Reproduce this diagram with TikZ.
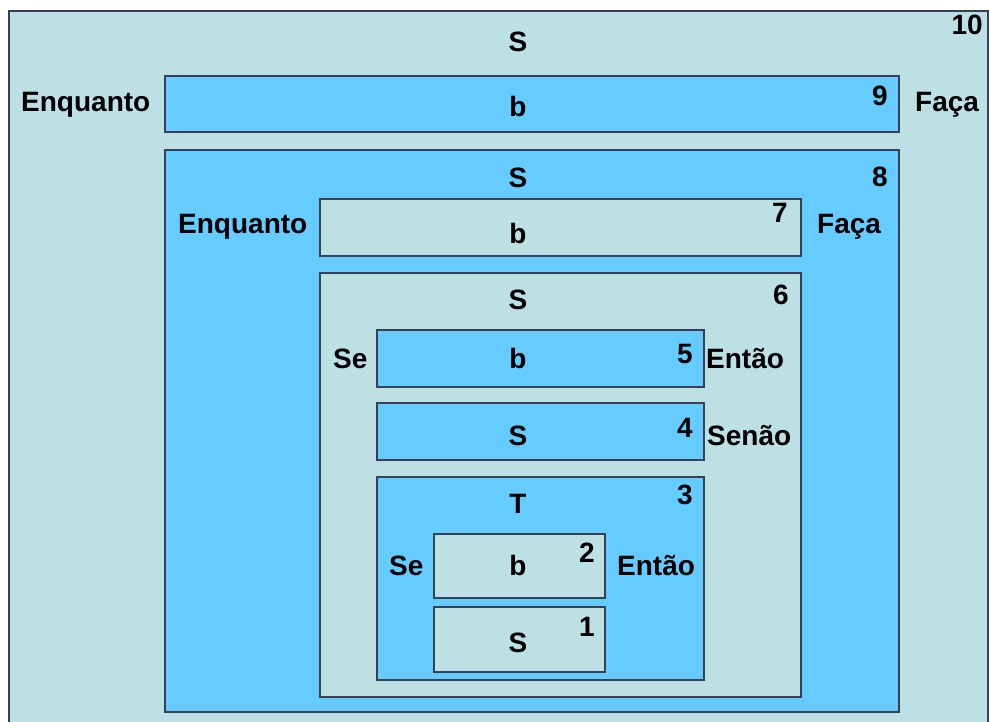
\documentclass[tikz,border=0pt]{standalone}
\usepackage{fontspec}
\setmainfont{Liberation Sans}
\usepackage{tikz}

\definecolor{lite}{RGB}{188,224,227}
\definecolor{sky}{RGB}{102,204,255}
\definecolor{edge}{RGB}{55,64,84}

\begin{document}
\begin{tikzpicture} [x=1pt, y=-1pt,
		box/.style={draw=edge, line width=1.2pt},
		litebox/.style={box, fill=lite},
		skybox/.style={box, fill=sky},
		word/.style={font=\bfseries\fontsize{28}{30}\selectfont, inner sep=0pt}]
		\useasboundingbox (0, 0) rectangle (989, 722);
		\fill[white] (0, 0) rectangle (989, 722);
		\clip (0, 0) rectangle (989, 722);
		% outer loop
		\draw[litebox] (9, 11) rectangle (988, 740);
		\node[word, anchor=base east] (n10) at (983, 35) {10};
		\node[word, anchor=base] (s10) at (518, 52) {S};
		\draw[skybox] (165, 76) rectangle (899, 132);
		\node[word, anchor=base] (b9) at (518, 117) {b};
		\node[word, anchor=base east] (n9) at (888, 106) {9};
		\node[word, anchor=base west] (enq1) at (21, 112) {Enquanto};
		\node[word, anchor=base west] (faca1) at (915, 112) {Faça};
		% body of outer loop
		\draw[skybox] (165, 150) rectangle (899, 712);
		\node[word, anchor=base] (s8) at (518, 188) {S};
		\node[word, anchor=base east] (n8) at (888, 187) {8};
			% inner loop
			\draw[litebox] (320, 199) rectangle (801, 256);
			\node[word, anchor=base] (b7) at (518, 244) {b};
			\node[word, anchor=base east] (n7) at (788, 223) {7};
			\node[word, anchor=base west] (enq2) at (178, 234) {Enquanto};
			\node[word, anchor=base west] (faca2) at (817, 234) {Faça};
			\draw[litebox] (320, 273) rectangle (801, 697);
			\node[word, anchor=base] (s6) at (518, 310) {S};
			\node[word, anchor=base east] (n6) at (789, 305) {6};
				% if / then / else
				\draw[skybox] (377, 330) rectangle (704, 387);
				\node[word, anchor=base] (b5) at (518, 368) {b};
				\node[word, anchor=base east] (n5) at (693, 363) {5};
				\node[word, anchor=base west] (se1) at (333, 368) {Se};
				\node[word, anchor=base west] (entao1) at (706, 368) {Então};
				\draw[skybox] (377, 403) rectangle (704, 460);
				\node[word, anchor=base] (s4) at (518, 445) {S};
				\node[word, anchor=base east] (n4) at (693, 437) {4};
				\node[word, anchor=base west] (senao) at (707, 445) {Senão};
				\draw[skybox] (377, 477) rectangle (704, 680);
				\node[word, anchor=base] (t3) at (518, 513) {T};
				\node[word, anchor=base east] (n3) at (693, 504) {3};
					% if / then
					\draw[litebox] (434, 534) rectangle (605, 598);
					\node[word, anchor=base] (b2) at (518, 575) {b};
					\node[word, anchor=base east] (n2) at (595, 562) {2};
					\node[word, anchor=base west] (se2) at (389, 575) {Se};
					\node[word, anchor=base west] (entao2) at (617, 575) {Então};
					\draw[litebox] (434, 607) rectangle (605, 672);
					\node[word, anchor=base] (s1) at (518, 652) {S};
					\node[word, anchor=base east] (n1) at (595, 636) {1};
\end{tikzpicture}
\end{document}
